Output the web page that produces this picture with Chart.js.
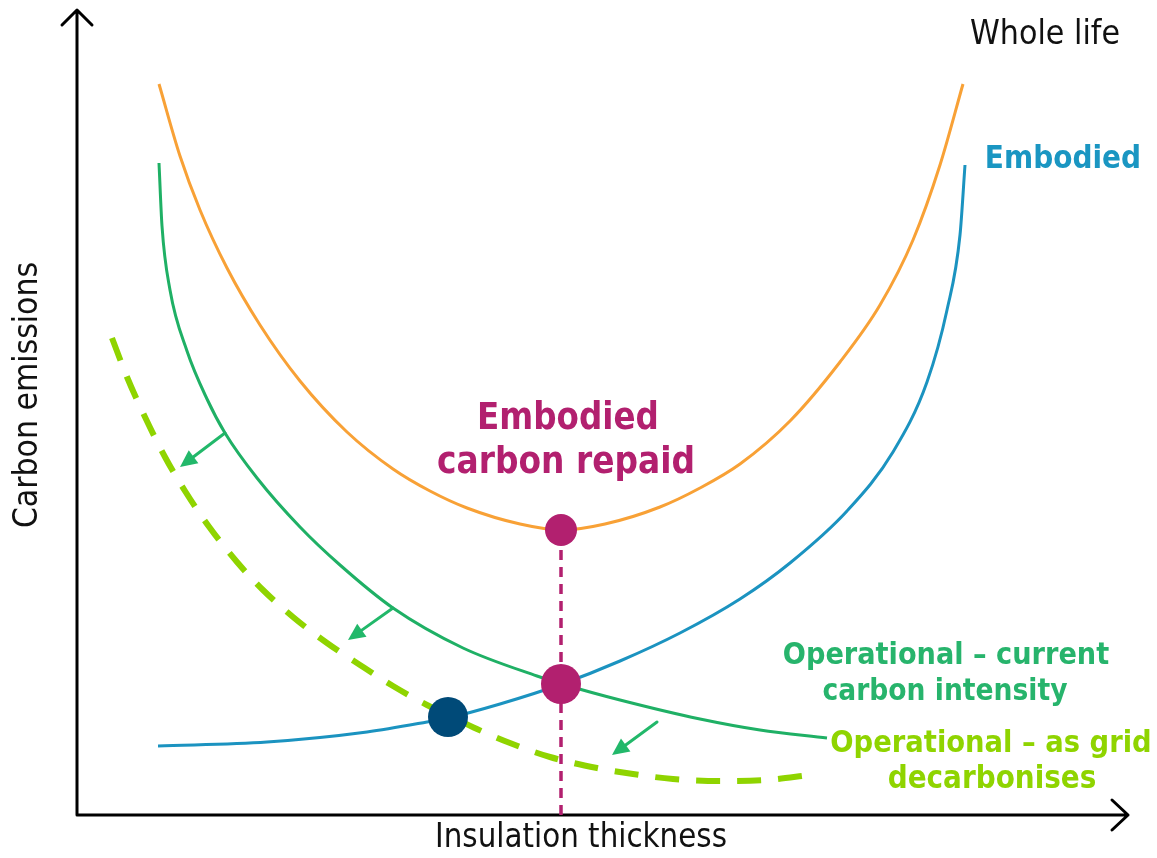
<!DOCTYPE html>
<html>
<head>
<meta charset="utf-8">
<script src="https://cdn.jsdelivr.net/npm/chart.js@4.4.1/dist/chart.umd.min.js"></script>
<style>
  html, body { margin: 0; padding: 0; background: #fff; }
  #wrap { width: 1157px; height: 858px; position: relative; }
</style>
</head>
<body>
<div id="wrap"><canvas id="c" width="1157" height="858"></canvas></div>
<script>
// insulation thickness (x) against carbon emissions (y), arbitrary units
const wholeLifeX = [8.2, 10.3, 12.3, 15.0, 18.3, 22.3, 27.0, 31.6, 35.3, 39.0, 44.3, 48.5, 52.8, 58.3, 62.3, 66.3, 71.3, 76.3, 80.3, 83.6, 86.3, 88.6];
const wholeLifeY = [73.1, 65.9, 60.5, 54.7, 49.0, 43.4, 38.3, 34.6, 32.4, 30.7, 29.1, 28.5, 29.1, 30.8, 32.7, 35.1, 39.4, 45.3, 51.0, 57.5, 65.0, 73.1];

const embodiedX = [8.1, 19.0, 29.0, 35.0, 37.1, 42.3, 48.5, 54.3, 60.3, 66.3, 71.3, 77.0, 81.6, 85.0, 87.0, 88.3, 88.8];
const embodiedY = [6.9, 7.3, 8.3, 9.3, 9.7, 11.1, 13.1, 15.4, 18.2, 21.6, 25.2, 30.4, 36.3, 43.3, 50.5, 58.0, 65.0];

const operationalX = [8.2, 8.5, 9.3, 11.0, 13.0, 14.8, 18.0, 22.3, 26.3, 31.6, 38.6, 46.0, 48.5, 54.3, 62.3, 68.3, 75.0];
const operationalY = [65.2, 58.9, 52.5, 46.4, 41.6, 38.2, 33.7, 28.8, 25.0, 20.7, 16.7, 13.9, 13.1, 11.5, 9.6, 8.5, 7.7];

const gridX = [3.5, 5.0, 6.8, 8.8, 10.8, 13.3, 16.0, 18.6, 21.6, 25.0, 28.3, 31.6, 35.0, 37.1, 40.0, 43.3, 47.3, 52.0, 55.6, 59.6, 64.3, 69.0, 73.3];
const gridY = [47.7, 43.8, 39.8, 35.8, 32.4, 28.7, 25.3, 22.5, 19.8, 17.2, 15.0, 12.9, 11.0, 10.0, 8.6, 7.2, 5.8, 4.7, 4.1, 3.6, 3.4, 3.5, 4.0];

// repaid point on the whole life minimum, crossover of embodied/operational, and crossover with decarbonised grid
const repaidX = 48.4, repaidTopY = 28.5, crossY = 13.1;
const gridCrossX = 37.1, gridCrossY = 9.8;

// arrows from current-intensity curve to the decarbonising curve: [x0, y0, x1, y1]
const shiftArrows = [
  [14.8, 38.2, 10.3, 34.8],
  [31.6, 20.7, 27.1, 17.5],
  [58.0, 9.3, 53.5, 6.0]
];

const xMax = 105.3, yMax = 79.5;

function pts(xs, ys) {
  return xs.map((x, i) => ({x: x, y: ys[i]}));
}

const FONT = "'DejaVu Sans', sans-serif";

// draws text centred on (cx, cy), sized to span the given width
function fitText(ctx, text, cx, cy, width, weight, color, size) {
  ctx.font = weight + ' ' + size + 'px ' + FONT;
  const w = ctx.measureText(text).width;
  const s = size * width / w;
  ctx.font = weight + ' ' + s.toFixed(1) + 'px ' + FONT;
  ctx.fillStyle = color;
  ctx.textAlign = 'center';
  ctx.textBaseline = 'middle';
  ctx.save();
  ctx.translate(cx, cy);
  ctx.scale(1, 1.12);
  ctx.fillText(text, 0, 0);
  ctx.restore();
}

const decorations = {
  id: 'decorations',
  beforeDatasetsDraw(chart) {
    const {ctx, chartArea: a, scales: {x, y}} = chart;
    ctx.save();
    ctx.strokeStyle = '#000';
    ctx.lineWidth = 3;
    ctx.lineCap = 'round';
    ctx.lineJoin = 'round';
    // axes
    ctx.beginPath();
    ctx.moveTo(a.left, a.bottom);
    ctx.lineTo(a.left, a.top - 10);
    ctx.moveTo(a.left - 15, a.top + 5);
    ctx.lineTo(a.left, a.top - 10);
    ctx.lineTo(a.left + 15, a.top + 5);
    ctx.moveTo(a.left, a.bottom);
    ctx.lineTo(a.right - 2, a.bottom);
    ctx.moveTo(a.right - 18, a.bottom - 15);
    ctx.lineTo(a.right - 2, a.bottom);
    ctx.lineTo(a.right - 18, a.bottom + 15);
    ctx.stroke();

    // shift arrows
    ctx.strokeStyle = '#22b86a';
    ctx.fillStyle = '#22b86a';
    ctx.lineWidth = 3;
    shiftArrows.forEach(([x0, y0, x1, y1]) => {
      const px0 = x.getPixelForValue(x0), py0 = y.getPixelForValue(y0);
      const px1 = x.getPixelForValue(x1), py1 = y.getPixelForValue(y1);
      const ang = Math.atan2(py1 - py0, px1 - px0);
      const head = 17, half = 8;
      const bx = px1 - head * Math.cos(ang), by = py1 - head * Math.sin(ang);
      ctx.beginPath();
      ctx.moveTo(px0, py0);
      ctx.lineTo(bx, by);
      ctx.stroke();
      ctx.beginPath();
      ctx.moveTo(px1, py1);
      ctx.lineTo(bx + half * Math.sin(ang), by - half * Math.cos(ang));
      ctx.lineTo(bx - half * Math.sin(ang), by + half * Math.cos(ang));
      ctx.closePath();
      ctx.fill();
    });
    ctx.restore();
  },
  afterDatasetsDraw(chart) {
    const {ctx} = chart;
    ctx.save();
    fitText(ctx, 'Whole life', 1045, 35, 150, 'normal', '#111', 26);
    fitText(ctx, 'Embodied', 1063, 160, 156, 'bold', '#1a96c2', 26);
    fitText(ctx, 'Embodied', 568, 420, 182, 'bold', '#b2206f', 32);
    fitText(ctx, 'carbon repaid', 566, 463, 258, 'bold', '#b2206f', 32);
    fitText(ctx, 'Operational \u2013 current', 946, 656, 327, 'bold', '#27b46c', 26);
    fitText(ctx, 'carbon intensity', 945, 692, 245, 'bold', '#27b46c', 26);
    fitText(ctx, 'Operational \u2013 as grid', 991, 744, 322, 'bold', '#8fd400', 26);
    fitText(ctx, 'decarbonises', 992, 780, 209, 'bold', '#8fd400', 26);
    fitText(ctx, 'Insulation thickness', 581, 838, 292, 'normal', '#111', 27);
    ctx.translate(28, 395);
    ctx.rotate(-Math.PI / 2);
    fitText(ctx, 'Carbon emissions', 0, 0, 266, 'normal', '#111', 27);
    ctx.restore();
  }
};

const curve = {
  type: 'line',
  pointRadius: 0,
  borderWidth: 3,
  cubicInterpolationMode: 'monotone',
  fill: false
};

new Chart(document.getElementById('c'), {
  type: 'line',
  data: {
    datasets: [
      Object.assign({}, curve, {label: 'Whole life', data: pts(wholeLifeX, wholeLifeY), borderColor: '#f8a136', order: 5}),
      Object.assign({}, curve, {label: 'Embodied', data: pts(embodiedX, embodiedY), borderColor: '#1b93c0', order: 4}),
      Object.assign({}, curve, {label: 'Operational - current carbon intensity', data: pts(operationalX, operationalY), borderColor: '#1fb065', order: 3}),
      Object.assign({}, curve, {label: 'Operational - as grid decarbonises', data: pts(gridX, gridY), borderColor: '#8fd400', borderWidth: 6, borderDash: [24, 17], borderCapStyle: 'butt', order: 2}),
      {type: 'line', label: 'repaid', data: [{x: repaidX, y: 0}, {x: repaidX, y: repaidTopY}], borderColor: '#b2206f', borderWidth: 3.5, borderDash: [10, 7], pointRadius: 0, order: 1},
      {type: 'scatter', label: 'points', data: [{x: repaidX, y: repaidTopY}, {x: repaidX, y: crossY}],
        pointRadius: [16, 20], backgroundColor: '#b2206f', borderWidth: 0, order: 0},
      {type: 'scatter', label: 'grid crossover', data: [{x: gridCrossX, y: gridCrossY}],
        pointRadius: 20, backgroundColor: '#004a78', borderWidth: 0, order: 0}
    ]
  },
  options: {
    responsive: false,
    animation: false,
    layout: {padding: {left: 77, right: 27, top: 20, bottom: 43}},
    plugins: {
      legend: {display: false},
      tooltip: {enabled: false}
    },
    scales: {
      x: {type: 'linear', min: 0, max: xMax, display: false},
      y: {type: 'linear', min: 0, max: yMax, display: false}
    }
  },
  plugins: [decorations]
});
</script>
</body>
</html>
